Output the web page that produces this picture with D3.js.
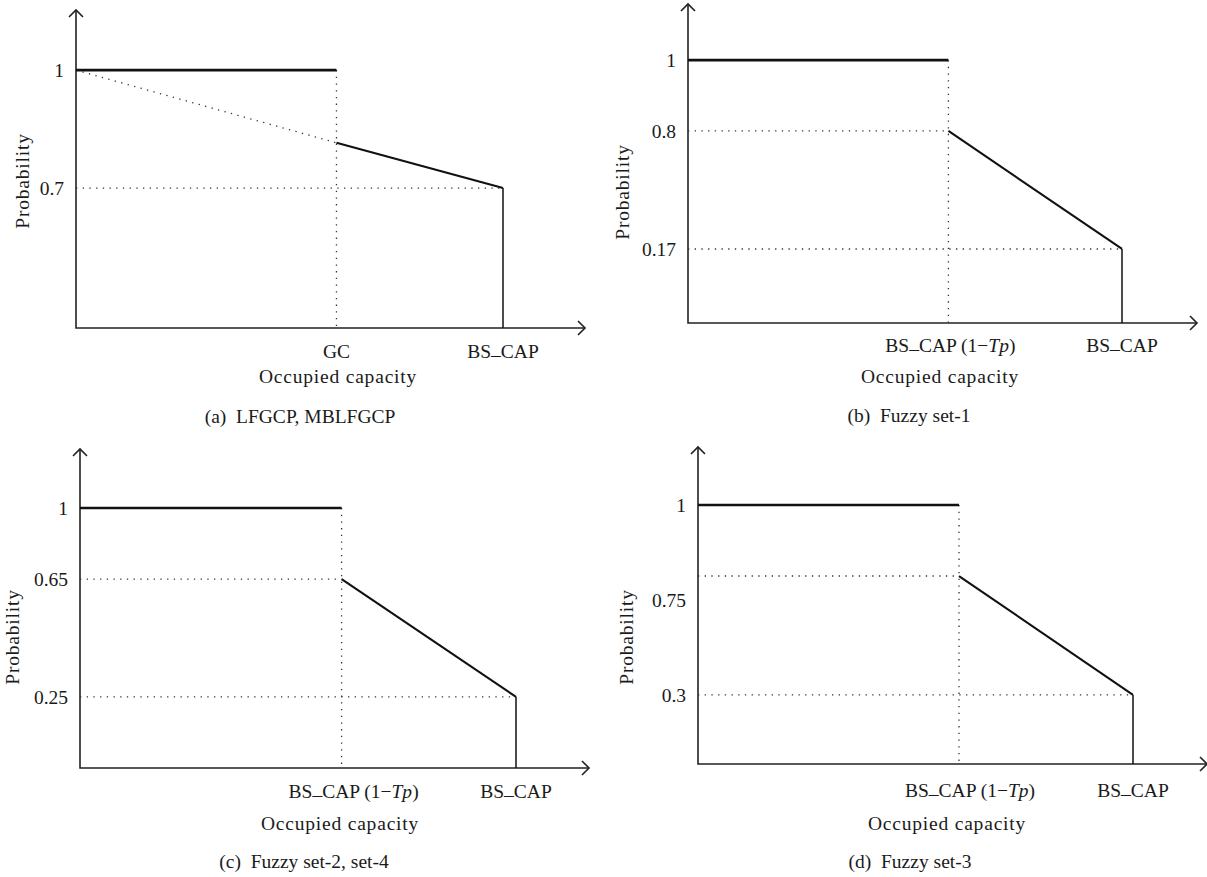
<!DOCTYPE html>
<html>
<head>
<meta charset="utf-8">
<script src="https://cdn.jsdelivr.net/npm/d3@7"></script>
<style>
  body { margin: 0; background: #fff; }
  svg { display: block; }
  text { font-family: 'Liberation Serif', 'Times New Roman', serif; font-size: 19.5px; fill: #1a1a1a; }
  .title { letter-spacing: 0.8px; }
  .axis-line { stroke: #222; stroke-width: 1.6; fill: none; }
  .dotted { stroke: #333; stroke-width: 1.3; stroke-dasharray: 1.3 5.4; fill: none; }
  .solid { stroke: #111; fill: none; }
</style>
</head>
<body>
<div id="chart"></div>
<script>
// Panel texts
const captions = ['(a)  LFGCP, MBLFGCP', '(b)  Fuzzy set-1', '(c)  Fuzzy set-2, set-4', '(d)  Fuzzy set-3'];
const kneeNames = ['GC', 'BS_CAP', 'BS_CAP', 'BS_CAP'];
const kneeSuffix = [false, true, true, true];   // adds " (1−Tp)"
const endName = 'BS_CAP';
const xTitle = 'Occupied capacity';
const yTitle = 'Probability';

// Values (x: share of BS_CAP, y: probability)
const yTicks = [[0.7, 1], [0.17, 0.8, 1], [0.25, 0.65, 1], [0.3, 0.75, 1]];
const kneeX = [0.61, 0.6, 0.6, 0.6];
const kneeY = [0.815, 0.8, 0.65, 0.75];
const endY = [0.7, 0.17, 0.25, 0.3];
const kneeGuide = ['diagonal', 'level', 'level', 'level'];

// Layout of each panel (schematic, the y axis is not to scale)
const layout = [
  {x0: 76, y0: 328, h: 318, w: 427, stops: [0, 0.44, 0.811], kdx: 0, lab: 30, occ: 55, cap: 95, occx: 262, capx: 224, px: 29, py: 147},
  {x0: 688, y0: 323, h: 319, w: 434, stops: [0, 0.232, 0.602, 0.824], kdx: 2, lab: 29, occ: 60, cap: 99, occx: 252, capx: 221, px: 629, py: 131},
  {x0: 80, y0: 768, h: 319, w: 436, stops: [0, 0.223, 0.592, 0.815], kdx: 12, lab: 30, occ: 62, cap: 100, occx: 260, capx: 224, px: 19, py: 131},
  {x0: 698, y0: 764, h: 317, w: 435, stops: [0, 0.218, 0.593, 0.817], kdx: 11, lab: 33, occ: 66, cap: 104, occx: 249, capx: 212, px: 633, py: 127, tickDy: {0.75: 24}}
];
const axisLen = 509;

const svg = d3.select('#chart').append('svg')
  .attr('width', 1207)
  .attr('height', 877);
svg.append('rect').attr('width', 1207).attr('height', 877).attr('fill', '#fff');

// "BS_CAP" with a TeX style underscore sitting on the baseline
function capName(sel, name) {
  const parts = name.split('_');
  sel.append('tspan').text(parts[0]);
  if (parts.length > 1) {
    sel.append('tspan').attr('dy', -3.5).text('_');
    sel.append('tspan').attr('dy', 3.5).text(parts[1]);
  }
}

function drawPanel(i) {
  const L = layout[i];
  const g = svg.append('g');
  const x = d3.scaleLinear().domain([0, 1]).range([L.x0, L.x0 + L.w]);
  const y = d3.scaleLinear()
    .domain([0, ...yTicks[i]])
    .range(L.stops.map(f => L.y0 - f * L.h));
  const line = d3.line().x(d => x(d[0])).y(d => y(d[1]));

  // Axes with open arrow heads
  const tipX = L.x0 + axisLen;
  const tipY = L.y0 - L.h;
  g.append('path').attr('class', 'axis-line')
    .attr('d', `M${L.x0},${tipY}V${L.y0}H${tipX}`);
  g.append('path').attr('class', 'axis-line')
    .attr('d', `M${L.x0 - 7},${tipY + 7}L${L.x0},${tipY}L${L.x0 + 7},${tipY + 7}`);
  g.append('path').attr('class', 'axis-line')
    .attr('d', `M${tipX - 7},${L.y0 - 7}L${tipX},${L.y0}L${tipX - 7},${L.y0 + 7}`);

  // Tick labels on y
  const yAxis = g.append('g')
    .attr('transform', `translate(${L.x0},0)`)
    .call(d3.axisLeft(y).tickValues(yTicks[i]).tickSize(0).tickPadding(12).tickFormat(d => String(d)));
  yAxis.select('.domain').remove();
  yAxis.selectAll('text')
    .attr('dy', d => (L.tickDy && L.tickDy[d] ? L.tickDy[d] : 0) + 6.5);

  // Dotted guides
  const kx = kneeX[i], ky = kneeY[i], ey = endY[i];
  const guides = [
    [[kx, 1], [kx, 0]],
    [[0, ey], [1, ey]],
    kneeGuide[i] === 'diagonal' ? [[0, 1], [kx, ky]] : [[0, ky], [kx, ky]]
  ];
  g.selectAll('.dotted').data(guides).enter().append('path')
    .attr('class', 'dotted')
    .attr('d', line);

  // Solid curve
  const solids = [
    {pts: [[0, 1], [kx, 1]], w: 2.6},
    {pts: [[kx, ky], [1, ey]], w: 2.1},
    {pts: [[1, ey], [1, 0]], w: 1.5}
  ];
  g.selectAll('.solid').data(solids).enter().append('path')
    .attr('class', 'solid')
    .attr('stroke-width', d => d.w)
    .attr('d', d => line(d.pts));

  // x labels
  const kt = g.append('text')
    .attr('x', x(kx) + L.kdx)
    .attr('y', L.y0 + L.lab)
    .attr('text-anchor', 'middle');
  capName(kt, kneeNames[i]);
  if (kneeSuffix[i]) {
    kt.append('tspan').text(' (1−');
    kt.append('tspan').attr('font-style', 'italic').text('Tp');
    kt.append('tspan').text(')');
  }
  const et = g.append('text')
    .attr('x', x(1))
    .attr('y', L.y0 + L.lab)
    .attr('text-anchor', 'middle');
  capName(et, endName);
  g.append('text')
    .attr('class', 'title')
    .attr('x', L.x0 + L.occx)
    .attr('y', L.y0 + L.occ)
    .attr('text-anchor', 'middle')
    .text(xTitle);
  g.append('text')
    .attr('x', L.x0 + L.capx)
    .attr('y', L.y0 + L.cap)
    .attr('text-anchor', 'middle')
    .style('white-space', 'pre')
    .text(captions[i]);
  g.append('text')
    .attr('class', 'title')
    .attr('transform', `translate(${L.px},${L.y0 - L.py}) rotate(-90)`)
    .attr('text-anchor', 'middle')
    .text(yTitle);
}

captions.forEach((_, i) => drawPanel(i));
</script>
</body>
</html>
